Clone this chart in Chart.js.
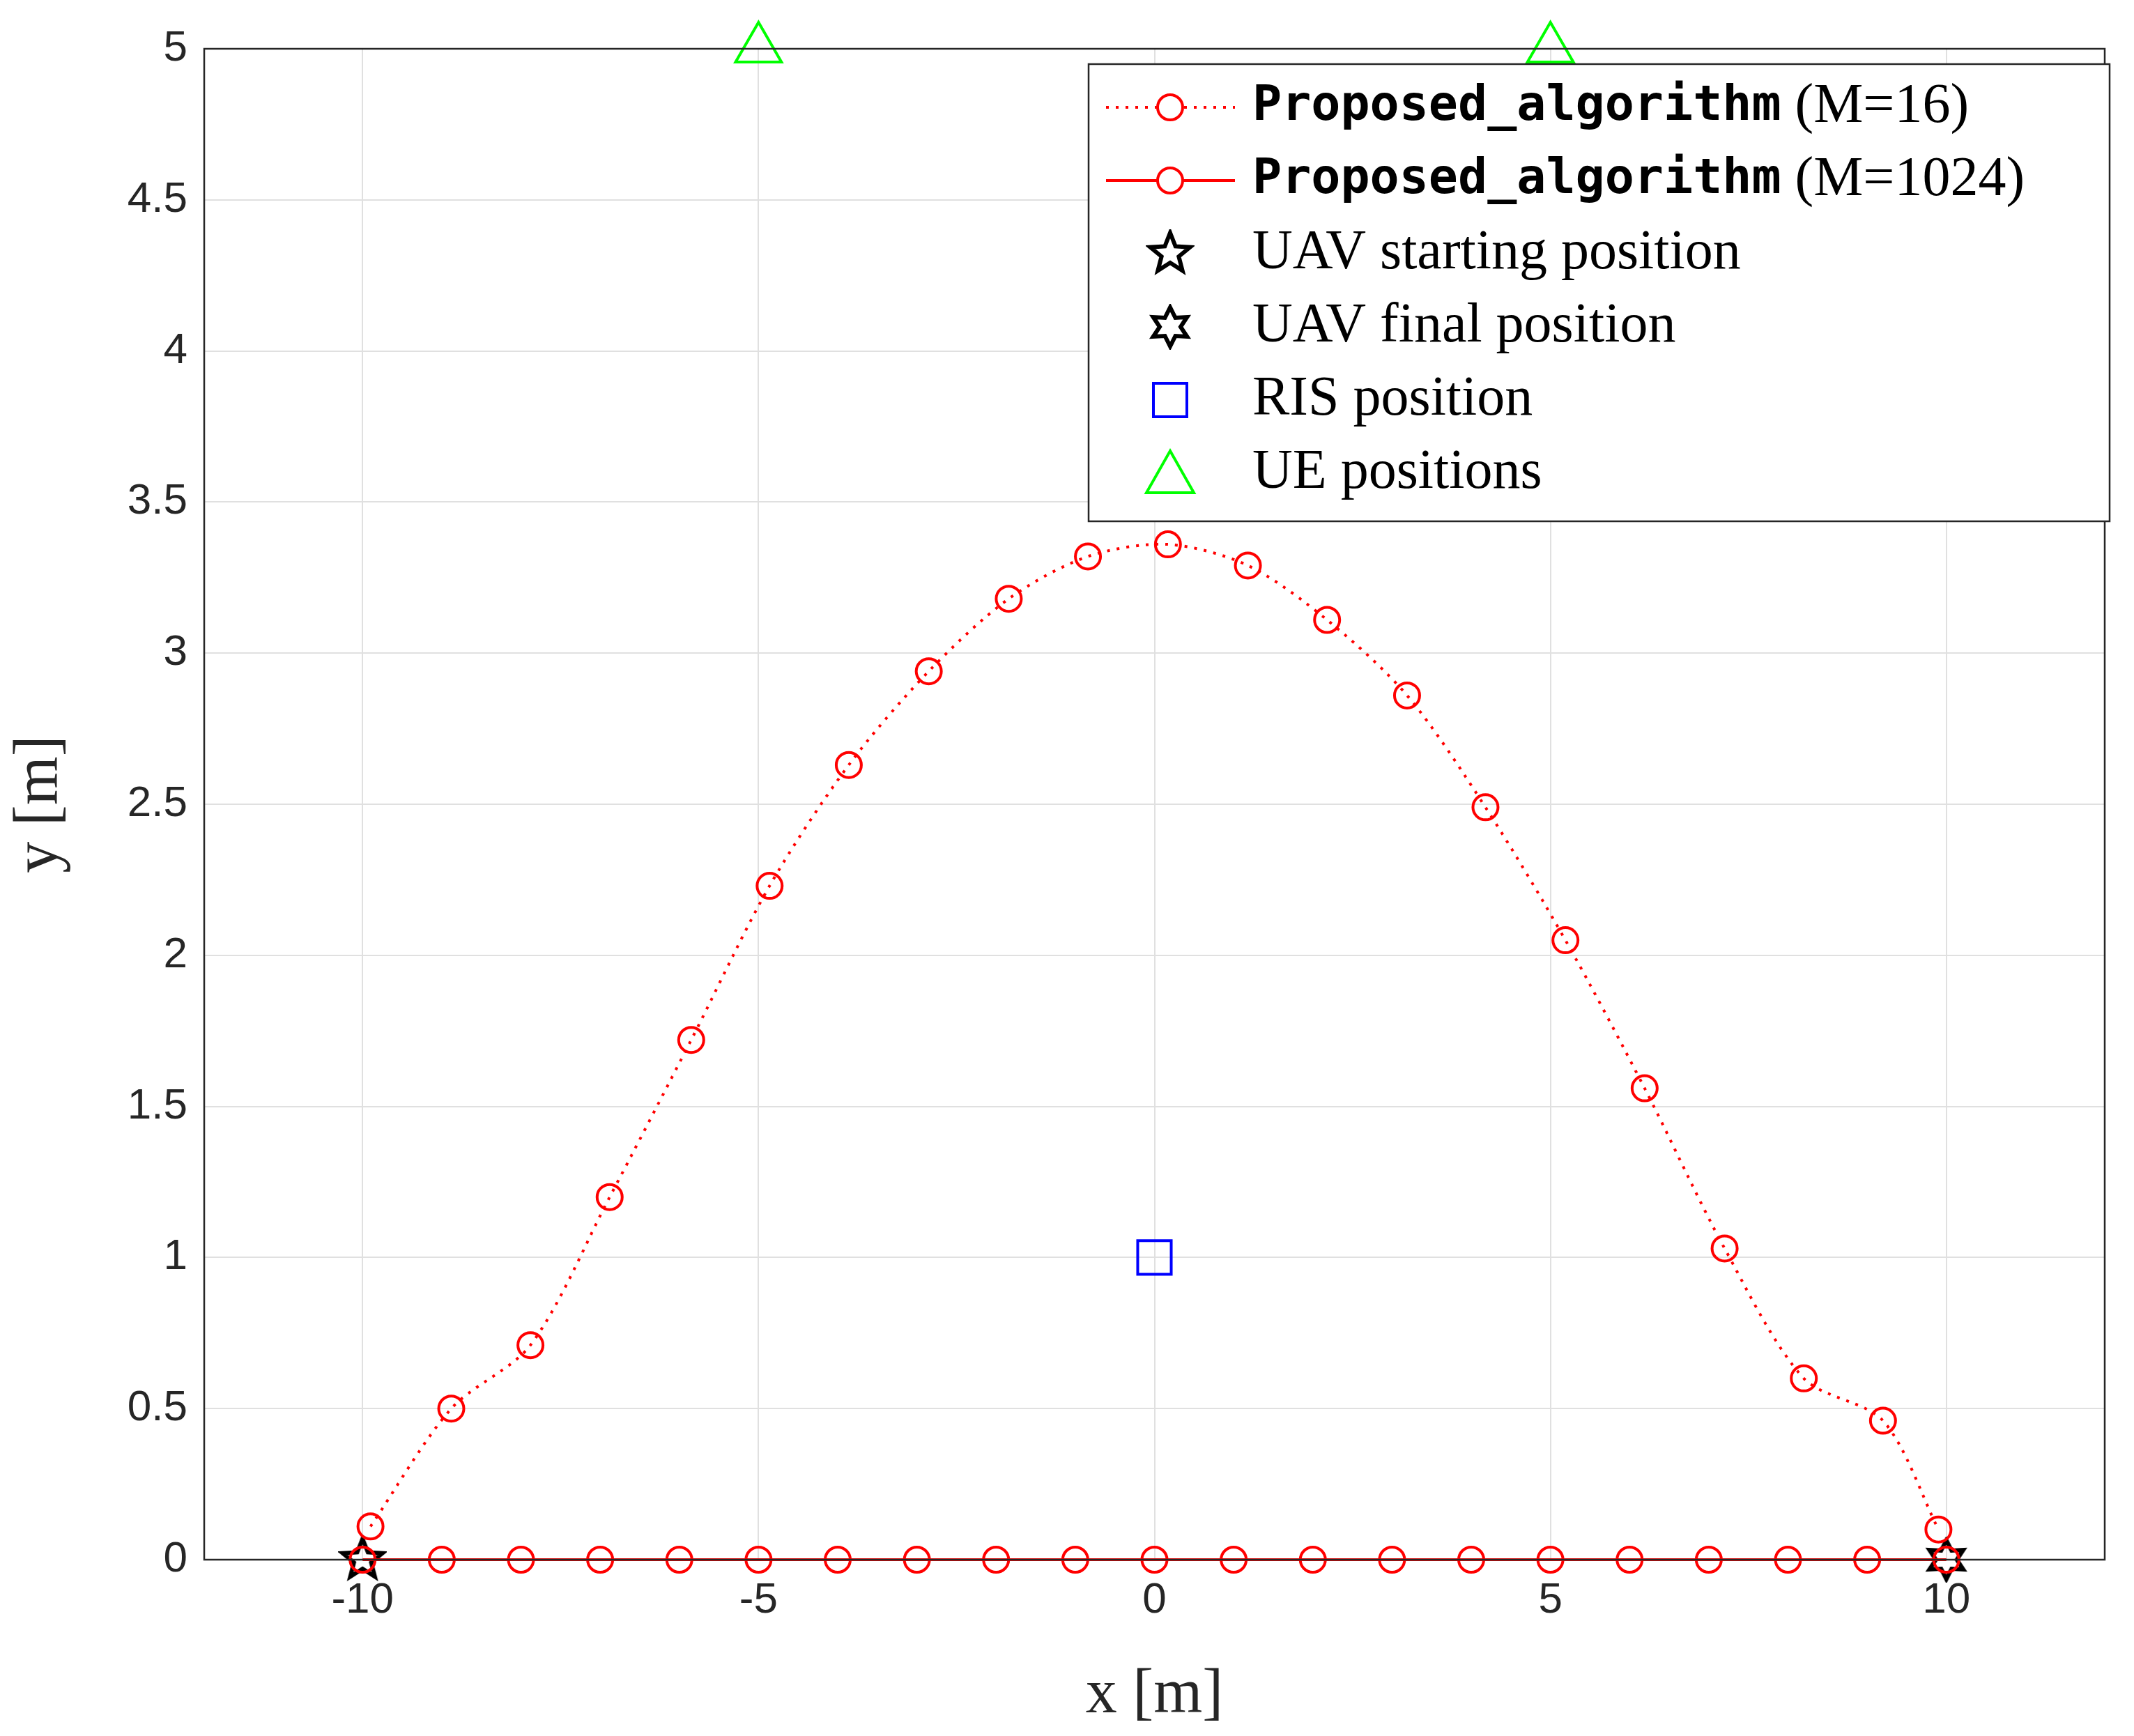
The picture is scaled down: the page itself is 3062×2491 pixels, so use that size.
<!DOCTYPE html>
<html><head><meta charset="utf-8">
<script src="https://cdn.jsdelivr.net/npm/chart.js@4/dist/chart.umd.min.js"></script>
<style>html,body{margin:0;padding:0;background:#fff}</style>
</head><body>
<canvas id="c" width="3062" height="2491"></canvas>
<script>
const m16X=[-9.9,-8.88,-7.88,-6.88,-5.85,-4.86,-3.86,-2.85,-1.84,-0.84,0.17,1.18,2.18,3.19,4.18,5.19,6.19,7.2,8.2,9.2,9.9];
const m16Y=[0.11,0.50,0.71,1.20,1.72,2.23,2.63,2.94,3.18,3.32,3.36,3.29,3.11,2.86,2.49,2.05,1.56,1.03,0.60,0.46,0.10];
const m1024X=[-10,-9,-8,-7,-6,-5,-4,-3,-2,-1,0,1,2,3,4,5,6,7,8,9,10];
const m1024Y=m1024X.map(()=>0);
const startPos=[-10,0], finalPos=[10,0], risPos=[0,1];
const ueX=[-5,5], ueY=[5,5];
const xTicks=[-10,-5,0,5,10];
const labels=['Proposed_algorithm','Proposed_algorithm','UAV starting position','UAV final position','RIS position','UE positions'];
const suffix=[' (M=16)',' (M=1024)','','','',''];

function starCanvas(n,rOut,rIn){
  const s=rOut*2+10, c=document.createElement('canvas'); c.width=s;c.height=s;
  const g=c.getContext('2d'); g.translate(s/2,s/2); g.beginPath();
  for(let i=0;i<2*n;i++){const r=i%2?rIn:rOut; const a=-Math.PI/2+i*Math.PI/n; g.lineTo(r*Math.cos(a),r*Math.sin(a));}
  g.closePath(); g.lineWidth=6; g.strokeStyle='#000'; g.stroke(); return c;
}
const star5=starCanvas(5,30,13), star6=starCanvas(6,28,15);
const pts=(xs,ys)=>xs.map((x,i)=>({x,y:ys[i]}));

const legendPlugin={id:'lg',afterDraw(ch){
  const g=ch.ctx, a=ch.chartArea; g.save();
  g.strokeStyle='#262626'; g.lineWidth=2.5; g.strokeRect(a.left,a.top,a.right-a.left,a.bottom-a.top);
  const bx=1562,by=92,bw=1465,bh=656; g.fillStyle='#fff'; g.fillRect(bx,by,bw,bh); g.strokeRect(bx,by,bw,bh);
  const rowH=105, y0=by+62, lx0=bx+25, lx1=bx+210, mx=bx+117, tx=bx+235;
  for(let i=0;i<6;i++){
    const y=y0+i*rowH;
    if(i<2){g.strokeStyle='red';g.lineWidth=4;g.setLineDash(i==0?[4,10]:[]);g.beginPath();g.moveTo(lx0,y);g.lineTo(lx1,y);g.stroke();g.setLineDash([]);
      g.beginPath();g.arc(mx,y,18,0,2*Math.PI);g.fillStyle='#fff';g.fill();g.stroke();}
    else if(i==2) g.drawImage(star5,mx-star5.width/2,y-star5.height/2);
    else if(i==3) g.drawImage(star6,mx-star6.width/2,y-star6.height/2);
    else if(i==4){g.strokeStyle='blue';g.lineWidth=4;g.strokeRect(mx-24,y-24,48,48);}
    else {g.strokeStyle='#00ff00';g.lineWidth=4;g.beginPath();g.moveTo(mx,y-32);g.lineTo(mx+34,y+28);g.lineTo(mx-34,y+28);g.closePath();g.stroke();}
    g.fillStyle='#000';g.textBaseline='middle';g.textAlign='left';
    let x=tx;
    if(i<2){g.font='bold 70px "DejaVu Sans Mono"';g.fillText(labels[i],x,y);x+=g.measureText(labels[i]).width;
      g.font='80px "Liberation Serif"';g.fillText(suffix[i],x,y);}
    else{g.font='80px "Liberation Serif"';g.fillText(labels[i],x,y);}
  }
  g.restore();
}};

new Chart(document.getElementById('c'),{
  type:'scatter',
  data:{datasets:[
    {data:pts(m16X,m16Y),showLine:true,borderColor:'red',borderWidth:4,borderDash:[4,10],pointRadius:18,pointBorderWidth:4,pointBackgroundColor:'rgba(0,0,0,0)',pointBorderColor:'red',tension:0.3},
    {data:pts(m1024X,m1024Y),showLine:true,borderColor:'red',borderWidth:4,pointRadius:18,pointBorderWidth:4,pointBackgroundColor:'rgba(0,0,0,0)',pointBorderColor:'red'},
    {data:[{x:startPos[0],y:startPos[1]}],pointStyle:star5,pointRadius:30},
    {data:[{x:finalPos[0],y:finalPos[1]}],pointStyle:star6,pointRadius:30},
    {data:[{x:risPos[0],y:risPos[1]}],pointStyle:'rect',pointRadius:34,pointBorderWidth:4,pointBorderColor:'blue',pointBackgroundColor:'rgba(0,0,0,0)'},
    {data:pts(ueX,ueY),pointStyle:'triangle',pointRadius:38,pointBorderWidth:4,pointBorderColor:'#00ff00',pointBackgroundColor:'rgba(0,0,0,0)'}
  ]},
  options:{responsive:false,animation:false,clip:false,
    layout:{padding:{top:70,right:29,left:0,bottom:0}},
    plugins:{legend:{display:false},tooltip:{enabled:false}},
    scales:{
      x:{type:'linear',min:-12,max:12,afterBuildTicks:s=>{s.ticks=xTicks.map(v=>({value:v}));},
        afterFit:s=>{s.height=253;},
        grid:{color:'#e0e0e0',lineWidth:2,drawTicks:false},border:{display:false},
        ticks:{color:'#262626',font:{family:'Liberation Sans',size:62},padding:22,callback:v=>String(v)},
        title:{display:true,text:'x [m]',color:'#262626',font:{family:'Liberation Serif',size:90},padding:{top:4}}},
      y:{type:'linear',min:0,max:5,ticks:{stepSize:0.5,color:'#262626',font:{family:'Liberation Sans',size:62},padding:24,callback:v=>String(v)},
        afterFit:s=>{s.width=293;},
        grid:{color:'#e0e0e0',lineWidth:2,drawTicks:false},border:{display:false},
        title:{display:true,text:'y [m]',color:'#262626',font:{family:'Liberation Serif',size:90},padding:{bottom:10}}}
    }},
  plugins:[legendPlugin]
});
</script></body></html>
